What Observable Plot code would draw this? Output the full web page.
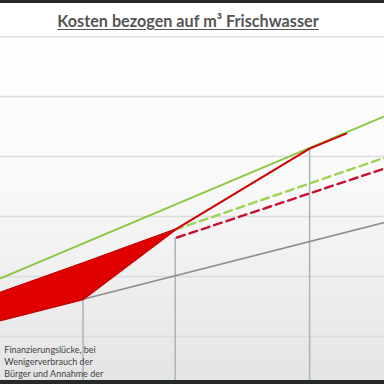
<!DOCTYPE html>
<html>
<head>
<meta charset="utf-8">
<script src="https://cdn.jsdelivr.net/npm/d3@7"></script>
<script src="https://cdn.jsdelivr.net/npm/@observablehq/plot@0.6"></script>
<style>
  html, body { margin: 0; padding: 0; background: #262a26; width: 384px; height: 384px; overflow: hidden; }
  #header { position: relative; margin-top: 3px; height: 33px; background: #ffffff; }
  #title { position: absolute; left: 0; width: 376px; top: 9px; text-align: center;
           font-family: Lato, "Open Sans", sans-serif; font-weight: 700; font-size: 16.2px;
           color: #555555; text-decoration: underline; text-underline-offset: 2px; line-height: 18px; }
  #chart svg { display: block; }
</style>
</head>
<body>
<div id="header"><div id="title">Kosten bezogen auf m³ Frischwasser</div></div>
<div id="chart"></div>
<script>
// x positions (arbitrary consumption units) and y values (costs, grid units)
const xStart = 0, xEnd = 10;
const xMarks = [2.15, 4.55, 8.05];

const greenSolidX = [0, 10];
const greenSolidY = [0.97, 3.67];

const greyX = [0, 10];
const greyY = [0.27, 1.9];

const redSolidX = [0, 2.15, 4.55, 8.05, 9.0];
const redSolidY = [0.27, 0.62, 1.78, 3.13, 3.38];

const greenDashX = [4.55, 10];
const greenDashY = [1.78, 2.98];

const redDashX = [4.6, 10];
const redDashY = [1.65, 2.8];

const gapX = [0, 2.15, 4.55];
const gapLow = [0.27, 0.62, 1.78];
const gapHigh = [0.73, 1.22, 1.78];

const dropY = [0.62, 1.65, 3.13];

const gridY = [0, 1, 2, 3, 4, 5];
const note = "Finanzierungslücke, bei\nWenigerverbrauch der\nBürger und Annahme der";

const zip = (xs, ys) => xs.map((x, i) => ({x, y: ys[i]}));
const yMin = -44 / 60;

const plot = Plot.plot({
  width: 384,
  height: 344,
  marginTop: 0, marginBottom: 0, marginLeft: 0, marginRight: 0,
  x: {domain: [xStart, xEnd], axis: null},
  y: {domain: [yMin, 5], axis: null},
  style: {background: "linear-gradient(#ffffff 0%, #fafafa 40%, #e4e4e4 100%)", overflow: "hidden"},
  marks: [
    Plot.ruleY(gridY, {stroke: "#dcdcdc", strokeWidth: 1.6}),
    Plot.ruleX(xMarks.map((x, i) => ({x, y: dropY[i]})), {x: "x", y1: "y", y2: yMin, stroke: "#a7b8c4", strokeWidth: 1.6}),
    Plot.line(zip(greyX, greyY), {x: "x", y: "y", stroke: "#8e8e8e", strokeWidth: 1.6}),
    Plot.areaY(gapX.map((x, i) => ({x, y1: gapLow[i], y2: gapHigh[i]})), {x: "x", y1: "y1", y2: "y2", fill: "#e00000", stroke: "#c00000", strokeWidth: 1}),
    Plot.line(zip(greenDashX, greenDashY), {x: "x", y: "y", stroke: "#9fd356", strokeWidth: 2.4, strokeDasharray: "8,5"}),
    Plot.line(zip(redDashX, redDashY), {x: "x", y: "y", stroke: "#c8102e", strokeWidth: 2.4, strokeDasharray: "8,5"}),
    Plot.line(zip(greenSolidX, greenSolidY), {x: "x", y: "y", stroke: "#8cc63f", strokeWidth: 2}),
    Plot.line(zip(redSolidX, redSolidY), {x: "x", y: "y", stroke: "#d00000", strokeWidth: 2}),
    Plot.text([note], {x: 0.1, y: -0.13, text: d => d, textAnchor: "start", lineAnchor: "top",
      fontSize: 9, lineHeight: 1.36, fill: "#444444", fontFamily: "Lato, sans-serif"})
  ]
});
document.getElementById("chart").appendChild(plot);
</script>
</body>
</html>
